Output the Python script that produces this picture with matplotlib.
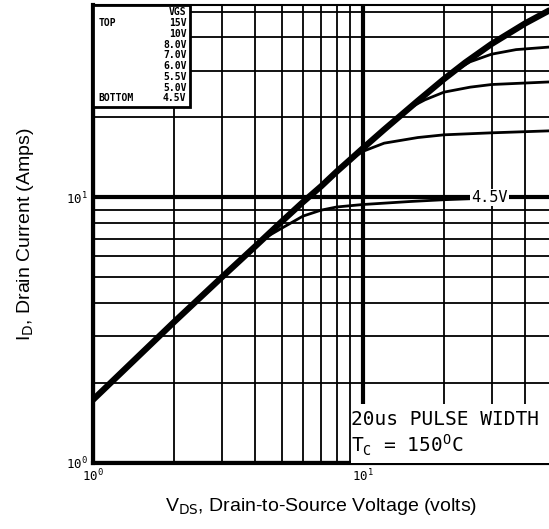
import matplotlib
matplotlib.use("Agg")
import matplotlib.pyplot as plt
from matplotlib.ticker import LogLocator, NullFormatter, FixedLocator
from matplotlib.patches import Rectangle

# curves (VDS in volts, ID in amps)
# 15V / 10V lie on top of each other along the full line
vds_top = [1, 2, 3, 4, 5, 6, 7, 8, 9, 10, 12, 16, 20, 24, 30, 40, 49]
id_top = [1.73, 3.4, 5.0, 6.55, 8.1, 9.6, 11.0, 12.5, 13.9, 15.3, 18.0, 23.1,
          27.9, 32.2, 37.8, 45.2, 50.5]

vds_8v = [22, 25, 30, 37, 49]
id_8v = [30.0, 32.4, 34.6, 36.0, 36.8]

vds_7v = [15, 17, 20, 25, 30, 49]
id_7v = [21.8, 23.3, 24.9, 26.0, 26.6, 27.2]

vds_6v = [9, 10, 12, 16, 20, 30, 49]
id_6v = [13.9, 14.9, 16.0, 16.8, 17.2, 17.5, 17.8]

vds_45v = [4.3, 5, 6, 7, 8, 10, 15, 20, 30, 49]
id_45v = [7.0, 7.65, 8.5, 8.95, 9.2, 9.4, 9.65, 9.8, 9.95, 10.05]

legend_vgs = ["15V", "10V", "8.0V", "7.0V", "6.0V", "5.5V", "5.0V", "4.5V"]

plt.rcParams['mathtext.fontset'] = 'custom'
plt.rcParams['mathtext.rm'] = 'DejaVu Sans Mono'

fig = plt.figure(figsize=(5.49, 5.29), dpi=100)
ax = fig.add_axes([93 / 549, 66 / 529, 456 / 549, 458 / 529])
ax.set_xscale('log')
ax.set_yscale('log')
ax.set_xlim(1, 49)
ax.set_ylim(1, 53)

# grid, heavy at the decades like the printed paper
ax.xaxis.set_minor_locator(LogLocator(base=10, subs=range(2, 10)))
ax.yaxis.set_minor_locator(LogLocator(base=10, subs=range(2, 10)))
ax.xaxis.set_minor_formatter(NullFormatter())
ax.yaxis.set_minor_formatter(NullFormatter())
ax.grid(which='minor', color='black', linewidth=1.3)
ax.grid(which='major', color='black', linewidth=3.0)
ax.tick_params(which='both', length=0, labelsize=9)
ax.xaxis.set_major_locator(FixedLocator([1, 10]))
ax.yaxis.set_major_locator(FixedLocator([1, 10]))
ax.set_xticklabels(['$10^0$', '$10^1$'])
ax.set_yticklabels(['$10^0$', '$10^1$'])
for lab in ax.get_xticklabels() + ax.get_yticklabels():
    lab.set_fontfamily('Liberation Serif')

for s in ['left', 'bottom']:
    ax.spines[s].set_linewidth(3)
ax.spines['top'].set_linewidth(1.5)
ax.spines['right'].set_visible(False)

# curves
ax.plot(vds_top, id_top, color='black', linewidth=4.5, solid_capstyle='round',
        solid_joinstyle='round', zorder=5)
ax.plot(vds_8v, id_8v, color='black', linewidth=2, zorder=5)
ax.plot(vds_7v, id_7v, color='black', linewidth=2, zorder=5)
ax.plot(vds_6v, id_6v, color='black', linewidth=2, zorder=5)
ax.plot(vds_45v, id_45v, color='black', linewidth=2, zorder=5)

# VGS legend box, top left
ax.add_patch(Rectangle((0, 0.777), 0.213, 0.223, transform=ax.transAxes,
                       facecolor='white', edgecolor='black', linewidth=2, zorder=6))
mono = dict(family='DejaVu Sans Mono', fontsize=7, fontweight='bold', zorder=7,
            transform=ax.transAxes)
row_h = 0.0235
ax.text(0.205, 0.984, "VGS", ha='right', va='center', **mono)
for i, v in enumerate(legend_vgs):
    ax.text(0.205, 0.984 - (i + 1) * row_h, v, ha='right', va='center', **mono)
ax.text(0.012, 0.984 - row_h, "TOP", ha='left', va='center', **mono)
ax.text(0.012, 0.984 - len(legend_vgs) * row_h, "BOTTOM", ha='left', va='center', **mono)

# 4.5V tag on its curve
ax.text(29.5, 10.0, "4.5V", family='DejaVu Sans Mono', fontsize=11, ha='center',
        va='center', zorder=8,
        bbox=dict(facecolor='white', edgecolor='none', pad=1.0))

# test condition box, bottom right
ax.add_patch(Rectangle((0.565, 0), 0.435, 0.128, transform=ax.transAxes,
                       facecolor='white', edgecolor='none', zorder=6))
ax.text(0.566, 0.096, "20us PULSE WIDTH", transform=ax.transAxes,
        family='DejaVu Sans Mono', fontsize=14, va='center', ha='left', zorder=7)
ax.text(0.566, 0.038, r"T$_\mathrm{C}$ = 150$^\mathrm{O}$C", transform=ax.transAxes,
        family='DejaVu Sans Mono', fontsize=14, va='center', ha='left', zorder=7)

ax.set_xlabel(r"V$_{\mathrm{DS}}$, Drain-to-Source Voltage (volts)",
              family='Liberation Sans', fontsize=14, labelpad=8)
ax.set_ylabel(r"I$_{\mathrm{D}}$, Drain Current (Amps)",
              family='Liberation Sans', fontsize=14, labelpad=22)
ax.xaxis.label.set_math_fontfamily('dejavusans')
ax.yaxis.label.set_math_fontfamily('dejavusans')

fig.savefig("out.png", dpi=100)
